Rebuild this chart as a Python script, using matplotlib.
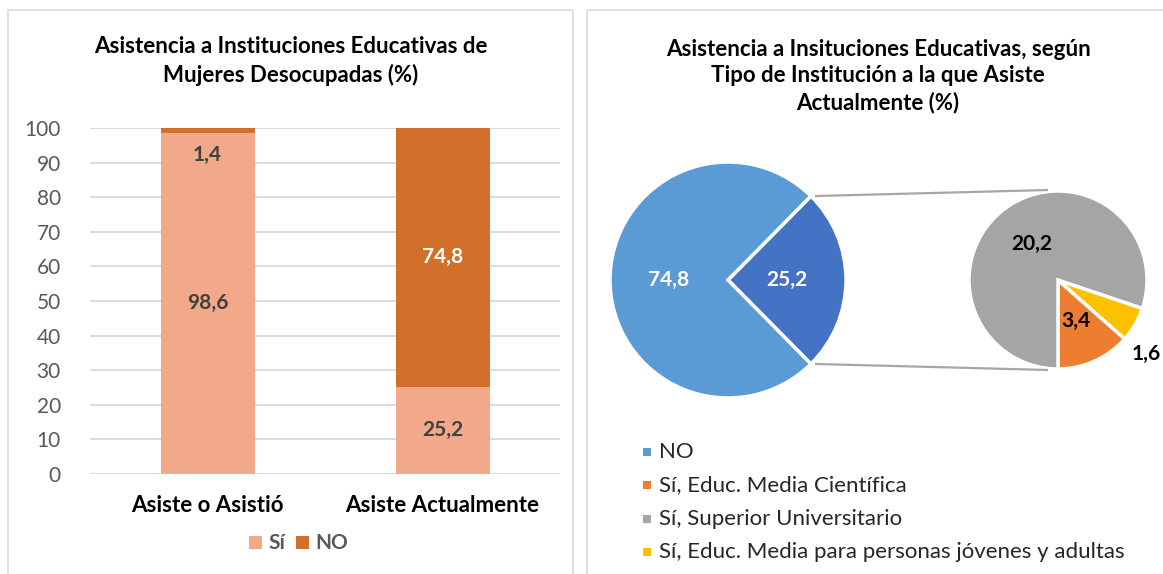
import numpy as np
import matplotlib.pyplot as plt
from matplotlib.patches import Rectangle

plt.rcParams['font.family'] = ['Lato', 'DejaVu Sans']

W, H = 1163, 574

# Bar chart data
categorias = ["Asiste o Asistió", "Asiste Actualmente"]
si_vals = [98.6, 25.2]
no_vals = [1.4, 74.8]
bar_title = "Asistencia a Instituciones Educativas de\nMujeres Desocupadas (%)"

# Pie-of-pie data
pie_main_labels = ["Sí", "NO"]
pie_main_vals = [25.2, 74.8]
pie_sub_labels = ["Sí, Educ. Media Científica", "Sí, Educ. Media para personas jóvenes y adultas",
                  "Sí, Superior Universitario"]
pie_sub_vals = [3.4, 1.6, 20.2]
pie_title = "Asistencia a Insituciones Educativas, según\nTipo de Institución a la que Asiste\nActualmente (%)"
legend_order = ["NO", "Sí, Educ. Media Científica", "Sí, Superior Universitario",
                "Sí, Educ. Media para personas jóvenes y adultas"]

c_si, c_no = "#F1A98A", "#D26F2B"
c_blue, c_dblue = "#5B9BD5", "#4472C4"
sub_colors = {"Sí, Educ. Media Científica": "#ED7D31",
              "Sí, Educ. Media para personas jóvenes y adultas": "#FFC000",
              "Sí, Superior Universitario": "#A5A5A5"}
legend_colors = {"NO": c_blue, **sub_colors}

fig = plt.figure(figsize=(W / 100, H / 100), dpi=100)


def fx(x):
    return x / W


def fy(y):
    return 1 - y / H


def fmt(v):
    return f"{v:.1f}".replace(".", ",")


# panel borders
for x0, x1 in [(8, 573), (587, 1175)]:
    fig.patches.append(Rectangle((fx(x0), fy(590)), fx(x1 - x0), (590 - 10) / H,
                                 transform=fig.transFigure, fill=False,
                                 edgecolor="#D9D9D9", lw=1.2))

# ---------------- left: stacked bars ----------------
ax = fig.add_axes([fx(90), fy(474), fx(560 - 90), (474 - 128) / H])
x = np.arange(len(categorias))
ax.bar(x, si_vals, width=0.4, color=c_si, zorder=3)
ax.bar(x, no_vals, width=0.4, bottom=si_vals, color=c_no, zorder=3)
ax.set_xlim(-0.5, 1.5)
ax.set_ylim(0, 100)
ax.set_yticks(np.arange(0, 101, 10))
ax.yaxis.grid(True, color="#D9D9D9", lw=1.3, zorder=0)
ax.set_axisbelow(True)
for s in ax.spines.values():
    s.set_visible(False)
ax.tick_params(axis='y', length=0, labelsize=15, labelcolor="#595959", pad=21)
ax.set_xticks(x)
ax.set_xticklabels(categorias, fontsize=16, fontweight='bold', color="#000000")
ax.tick_params(axis='x', length=0, pad=15)

for i in range(len(categorias)):
    ax.text(x[i], si_vals[i] / 2, fmt(si_vals[i]), ha='center', va='center',
            fontsize=15, fontweight='bold', color="#404040", zorder=4)
    if no_vals[i] > 5:
        ax.text(x[i], si_vals[i] + no_vals[i] / 2, fmt(no_vals[i]), ha='center',
                va='center', fontsize=15, fontweight='bold', color="white", zorder=4)
    else:
        ax.text(x[i], si_vals[i] - 6.5, fmt(no_vals[i]), ha='center',
                va='center', fontsize=15, fontweight='bold', color="#404040", zorder=4)

fig.text(fx(291), fy(61), bar_title, ha='center', va='center', fontsize=16, fontweight='bold',
         linespacing=1.35)

# bar legend
for xm, lab, col in [(249, "Sí", c_si), (296, "NO", c_no)]:
    fig.patches.append(Rectangle((fx(xm), fy(549)), fx(13), 13 / H, transform=fig.transFigure,
                                 facecolor=col, edgecolor='none'))
    fig.text(fx(xm + 19), fy(543), lab, ha='left', va='center', fontsize=15, fontweight='bold',
             color="#595959")

# ---------------- right: pie of pie ----------------
axp = fig.add_axes([0, 0, 1, 1])

c1 = (728, H - 280)
r1 = 118
c2 = (1058, H - 280)
r2 = 89

ang = pie_main_vals[0] / sum(pie_main_vals) * 360
axp.pie(pie_main_vals, colors=[c_dblue, c_blue], center=c1, radius=r1,
        startangle=-ang / 2, counterclock=True,
        wedgeprops=dict(edgecolor='white', linewidth=2.5), frame=True)

main_mid = [0, 180]
for v, a in zip(pie_main_vals, main_mid):
    axp.text(c1[0] + 0.5 * r1 * np.cos(np.radians(a)), c1[1] + 0.5 * r1 * np.sin(np.radians(a)),
             fmt(v), ha='center', va='center', fontsize=15, fontweight='bold', color='white')

axp.pie(pie_sub_vals, colors=[sub_colors[l] for l in pie_sub_labels], center=c2, radius=r2,
        startangle=-90, counterclock=True,
        wedgeprops=dict(edgecolor='white', linewidth=2.5), frame=True)
axp.set_xlim(0, W)
axp.set_ylim(0, H)
axp.set_aspect('equal')
axp.axis('off')

start = -90
tot = sum(pie_sub_vals)
for v in pie_sub_vals:
    span = v / tot * 360
    mid = start + span / 2
    if v > 2:
        d = 0.5 * r2
    else:
        d = 1.3 * r2
        mid -= 10  # outside label sits a bit lower
    axp.text(c2[0] + d * np.cos(np.radians(mid)), c2[1] + d * np.sin(np.radians(mid)), fmt(v),
             ha='center', va='center', fontsize=15, fontweight='bold', color='black')
    start += span

# connector lines
a = np.radians(ang / 2)
for sgn in [1, -1]:
    axp.plot([c1[0] + r1 * np.cos(a) + 4, c2[0] - 10],
             [c1[1] + sgn * r1 * np.sin(a), c2[1] + sgn * (r2 + 1)],
             color="#A6A6A6", lw=1.6, solid_capstyle='butt')

fig.text(fx(878), fy(76), pie_title, ha='center', va='center', fontsize=16, fontweight='bold',
         linespacing=1.3)

# pie legend
for i, lab in enumerate(legend_order):
    yy = 452 + i * 33.4
    fig.patches.append(Rectangle((fx(643), fy(yy + 4)), fx(8), 8 / H, transform=fig.transFigure,
                                 facecolor=legend_colors[lab], edgecolor='none'))
    fig.text(fx(659), fy(yy), lab, ha='left', va='center', fontsize=16, color="#262626")

fig.savefig("out.png", dpi=100)
